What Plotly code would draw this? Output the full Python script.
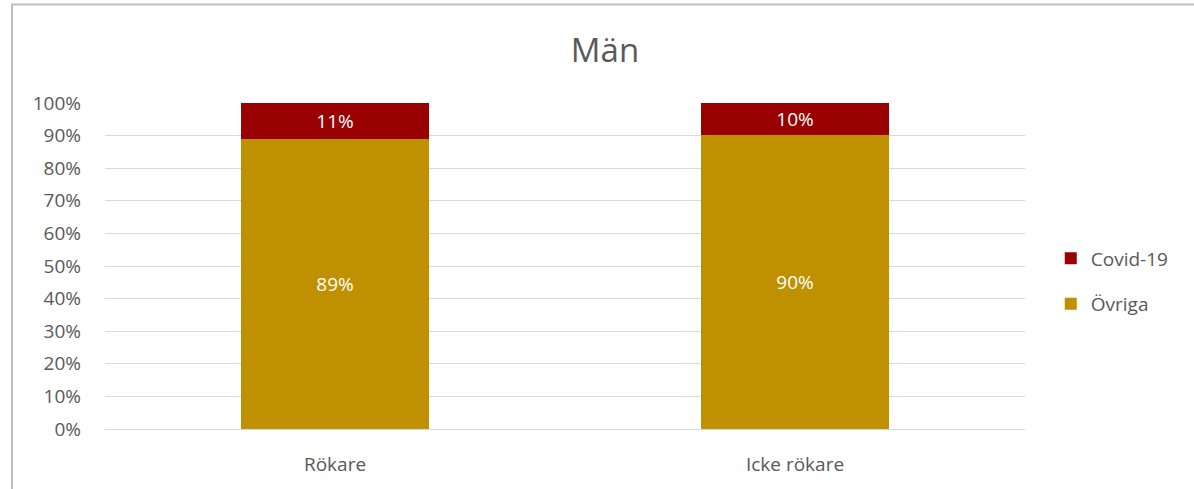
import plotly.graph_objects as go

categories = ["Rökare", "Icke rökare"]
ovriga = [89.0, 90.2]
covid = [11.0, 9.8]
tick_vals = [0, 10, 20, 30, 40, 50, 60, 70, 80, 90, 100]
tick_text = [f"{v}%" for v in tick_vals]

FONT = "Open Sans"
GREY = "#595959"

fig = go.Figure()
fig.add_trace(go.Bar(
    x=categories, y=ovriga, name="Övriga", marker_color="#BF9000",
    marker_line_width=0, legendgroup="a", legendrank=2,
    texttemplate="%{y:.0f}%", textposition="inside", insidetextanchor="middle",
    textfont=dict(color="white", size=19, family=FONT), constraintext="none",
))
fig.add_trace(go.Bar(
    x=categories, y=covid, name="Covid-19", marker_color="#990000",
    marker_line_width=0, legendgroup="b", legendrank=1,
    texttemplate="%{y:.0f}%", textposition="inside", insidetextanchor="middle",
    textfont=dict(color="white", size=19, family=FONT), constraintext="none",
))

fig.update_layout(
    barmode="stack",
    bargap=0.59,
    width=1194, height=489,
    margin=dict(l=105, r=169, t=103, b=58),
    paper_bgcolor="white", plot_bgcolor="white",
    font=dict(family=FONT, color=GREY, size=19),
    title=dict(text="Män", x=605/1194, xref="container", xanchor="center",
               y=1 - 50/489, yref="container", yanchor="middle",
               font=dict(size=33, color=GREY, family=FONT)),
    legend=dict(x=1.028, xanchor="left", y=0.453, yanchor="middle",
                traceorder="grouped", tracegroupgap=18, itemwidth=30,
                font=dict(size=19, color=GREY, family=FONT)),
    uniformtext=dict(mode=False),
)
fig.update_yaxes(range=[0, 100], tickvals=tick_vals, ticktext=tick_text,
                 showgrid=True, gridcolor="#D9D9D9", gridwidth=1,
                 zeroline=False, showline=False, ticks="", ticklabelstandoff=23,
                 tickfont=dict(size=19, color=GREY))
fig.update_xaxes(showgrid=False, showline=True, linecolor="#D9D9D9", linewidth=1,
                 ticks="", ticklabelstandoff=18, tickfont=dict(size=19, color=GREY))

# chart border (top and left edges visible in the crop)
fig.add_shape(type="rect", xref="paper", yref="paper",
              x0=(12 - 105) / 920, x1=1.5, y0=-0.5, y1=1 + (103 - 4) / 328,
              line=dict(color="#BFBFBF", width=2), fillcolor="rgba(0,0,0,0)", layer="below")

fig.write_html("out.html", config={"displayModeBar": False},
               post_script="document.body.style.margin='0';")
